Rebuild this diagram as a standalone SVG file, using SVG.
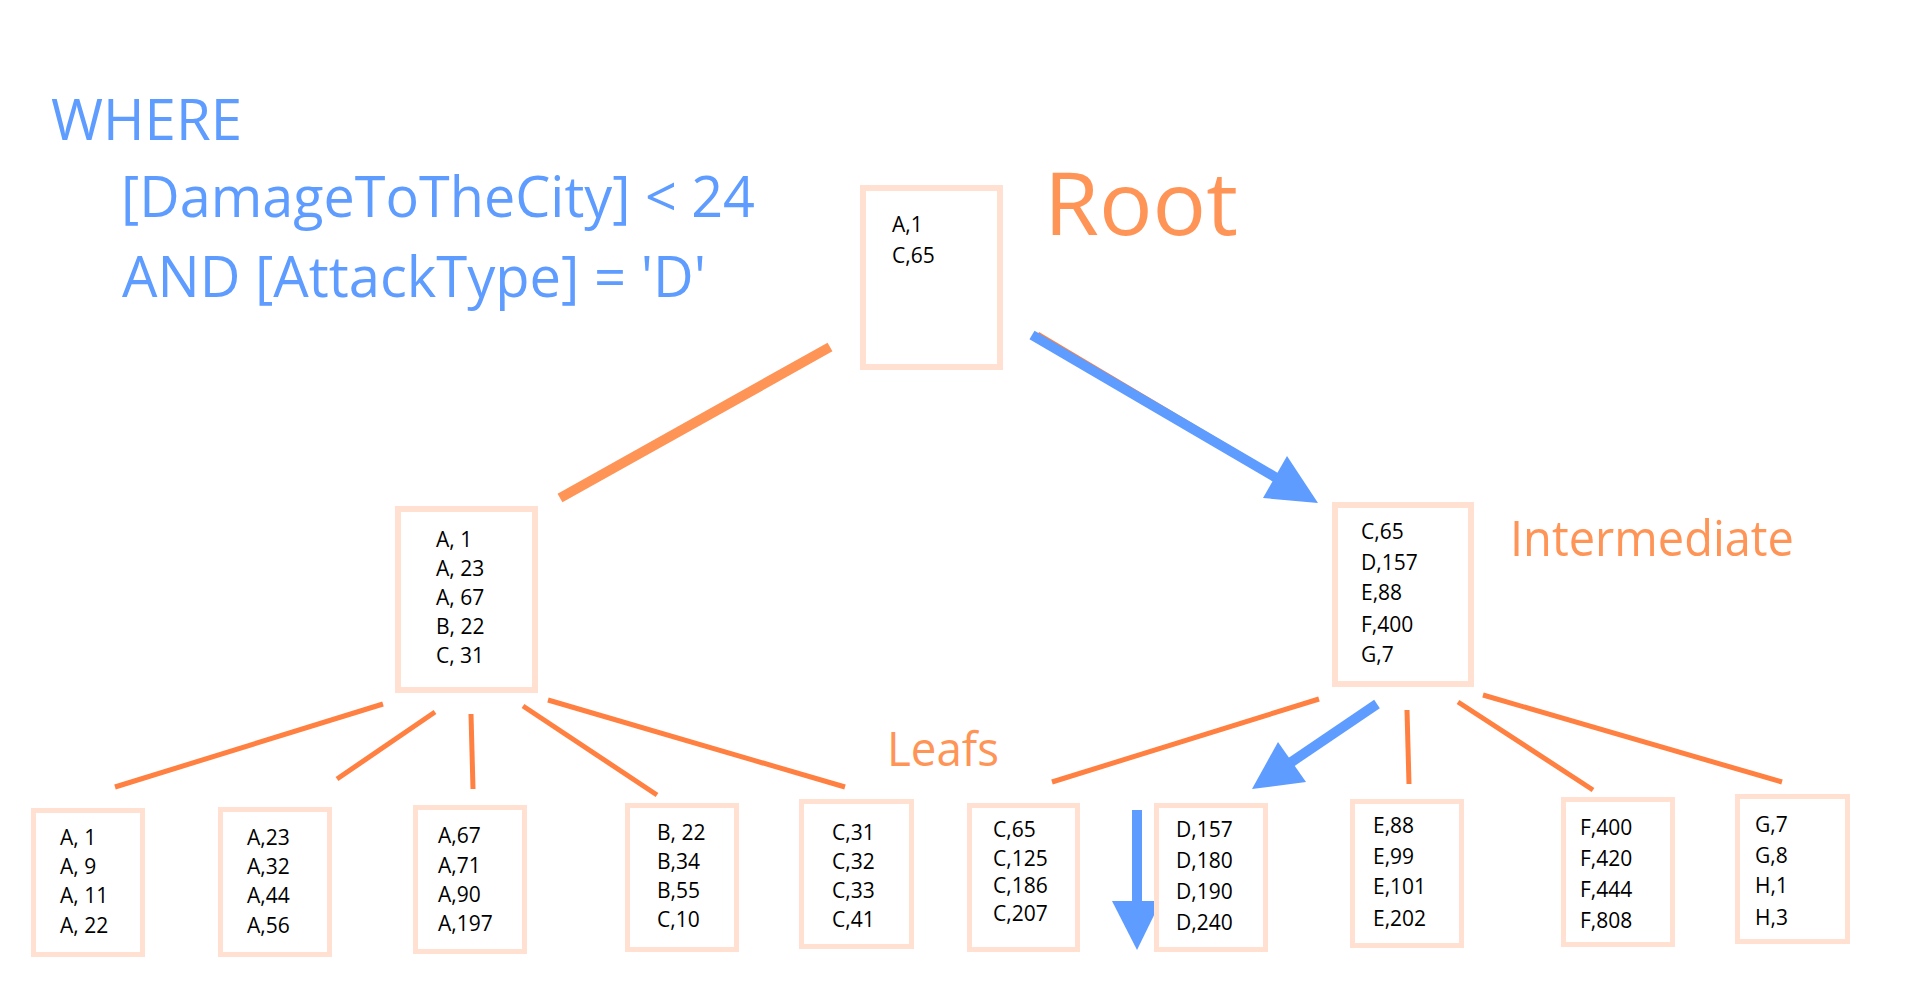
<svg xmlns="http://www.w3.org/2000/svg" width="1920" height="1000" viewBox="0 0 1920 1000">
<style>
  .box { fill: #FFFFFF; stroke: #FFE0D1; }
  .big { stroke-width: 6; }
  .leaf { stroke-width: 5; }
  .val { font-family: "Open Sans", "Noto Sans", sans-serif; font-size: 21px; fill: #000000; }
  .where { font-family: "Open Sans", "Noto Sans", sans-serif; font-size: 57px; fill: #5E9CFF; }
  .lbl { font-family: "Open Sans", "Noto Sans", sans-serif; fill: #FF9457; }
  .edge { stroke: #FF8040; stroke-width: 5; fill: none; }
  .edge-top { stroke: #FF9457; stroke-width: 10; fill: none; }
  .path { stroke: #5E9CFF; stroke-width: 10; fill: none; }
  .head { fill: #5E9CFF; }
</style>
<rect x="0" y="0" width="1920" height="1000" fill="#FFFFFF"/>

<g id="query">
  <text class="where" x="51" y="140" textLength="191" lengthAdjust="spacingAndGlyphs">WHERE</text>
  <text class="where" x="121" y="217" textLength="634" lengthAdjust="spacingAndGlyphs">[DamageToTheCity] &lt; 24</text>
  <text class="where" x="122" y="297" textLength="584" lengthAdjust="spacingAndGlyphs">AND [AttackType] = 'D'</text>
</g>

<g id="labels">
  <text class="lbl" x="1044" y="235" font-size="88" textLength="194" lengthAdjust="spacingAndGlyphs">Root</text>
  <text class="lbl" x="1510" y="556" font-size="50" textLength="284" lengthAdjust="spacingAndGlyphs">Intermediate</text>
  <text class="lbl" x="887" y="766" font-size="48" textLength="112" lengthAdjust="spacingAndGlyphs">Leafs</text>
</g>

<g id="connectors">
  <line class="edge-top" x1="830" y1="347" x2="560" y2="498"/>
  <line x1="1037" y1="335.5" x2="1309" y2="497" stroke="#FF8040" stroke-width="8"/>
  <line class="path" x1="1032" y1="335" x2="1280" y2="480"/>
  <polygon class="head" points="1318,503 1287,456 1263,498"/>

  <line class="edge" x1="383" y1="704" x2="115" y2="787"/>
  <line class="edge" x1="435" y1="712" x2="337" y2="779"/>
  <line class="edge" x1="471" y1="714" x2="473" y2="789"/>
  <line class="edge" x1="523" y1="706" x2="657" y2="795"/>
  <line class="edge" x1="548" y1="700" x2="845" y2="787"/>

  <line class="edge" x1="1319" y1="699" x2="1052" y2="782"/>
  <line class="path" x1="1377" y1="704" x2="1290" y2="763"/>
  <polygon class="head" points="1252,789 1278,742 1306,782"/>
  <line class="edge" x1="1407" y1="710" x2="1409" y2="784"/>
  <line class="edge" x1="1458" y1="702" x2="1593" y2="790"/>
  <line class="edge" x1="1483" y1="695" x2="1782" y2="782"/>

  <line class="path" x1="1137" y1="810" x2="1137" y2="903"/>
  <polygon class="head" points="1112,901 1161,901 1137,950"/>
</g>

<g id="root">
  <rect class="box big" x="863" y="188" width="137" height="179"/>
  <text class="val" font-size="22" x="892" y="232">A,1</text>
  <text class="val" font-size="22" x="892" y="263">C,65</text>
</g>

<g id="int-left">
  <rect class="box big" x="398" y="509" width="137" height="181"/>
  <text class="val" x="436" y="547">A, 1</text>
  <text class="val" x="436" y="576">A, 23</text>
  <text class="val" x="436" y="605">A, 67</text>
  <text class="val" x="436" y="634">B, 22</text>
  <text class="val" x="436" y="663">C, 31</text>
</g>

<g id="int-right">
  <rect class="box big" x="1335" y="505" width="136" height="179"/>
  <text class="val" font-size="21.5" x="1361" y="539">C,65</text>
  <text class="val" font-size="21.5" x="1361" y="570">D,157</text>
  <text class="val" font-size="21.5" x="1361" y="600">E,88</text>
  <text class="val" font-size="21.5" x="1361" y="632">F,400</text>
  <text class="val" font-size="21.5" x="1361" y="662">G,7</text>
</g>

<g id="leaf1">
  <rect class="box leaf" x="33.5" y="810.5" width="109" height="144"/>
  <text class="val" x="60" y="845">A, 1</text>
  <text class="val" x="60" y="874">A, 9</text>
  <text class="val" x="60" y="903">A, 11</text>
  <text class="val" x="60" y="933">A, 22</text>
</g>
<g id="leaf2">
  <rect class="box leaf" x="220.5" y="809.5" width="109" height="145"/>
  <text class="val" x="247" y="845">A,23</text>
  <text class="val" x="247" y="874">A,32</text>
  <text class="val" x="247" y="903">A,44</text>
  <text class="val" x="247" y="933">A,56</text>
</g>
<g id="leaf3">
  <rect class="box leaf" x="415.5" y="807.5" width="109" height="144"/>
  <text class="val" x="438" y="843">A,67</text>
  <text class="val" x="438" y="873">A,71</text>
  <text class="val" x="438" y="902">A,90</text>
  <text class="val" x="438" y="931">A,197</text>
</g>
<g id="leaf4">
  <rect class="box leaf" x="627.5" y="805.5" width="109" height="144"/>
  <text class="val" x="657" y="840">B, 22</text>
  <text class="val" x="657" y="869">B,34</text>
  <text class="val" x="657" y="898">B,55</text>
  <text class="val" x="657" y="927">C,10</text>
</g>
<g id="leaf5">
  <rect class="box leaf" x="801.5" y="801.5" width="110" height="145"/>
  <text class="val" x="832" y="840">C,31</text>
  <text class="val" x="832" y="869">C,32</text>
  <text class="val" x="832" y="898">C,33</text>
  <text class="val" x="832" y="927">C,41</text>
</g>
<g id="leaf6">
  <rect class="box leaf" x="969.5" y="805.5" width="108" height="144"/>
  <text class="val" font-size="19.5" x="993" y="837">C,65</text>
  <text class="val" font-size="19.5" x="993" y="866">C,125</text>
  <text class="val" font-size="19.5" x="993" y="893">C,186</text>
  <text class="val" font-size="19.5" x="993" y="921">C,207</text>
</g>
<g id="leaf7">
  <rect class="box leaf" x="1156.5" y="805.5" width="109" height="144"/>
  <text class="val" font-size="21.5" x="1176" y="837">D,157</text>
  <text class="val" font-size="21.5" x="1176" y="868">D,180</text>
  <text class="val" font-size="21.5" x="1176" y="899">D,190</text>
  <text class="val" font-size="21.5" x="1176" y="930">D,240</text>
</g>
<g id="leaf8">
  <rect class="box leaf" x="1352.5" y="801.5" width="109" height="144"/>
  <text class="val" font-size="21.5" x="1373" y="833">E,88</text>
  <text class="val" font-size="21.5" x="1373" y="864">E,99</text>
  <text class="val" font-size="21.5" x="1373" y="894">E,101</text>
  <text class="val" font-size="21.5" x="1373" y="926">E,202</text>
</g>
<g id="leaf9">
  <rect class="box leaf" x="1563.5" y="799.5" width="109" height="145"/>
  <text class="val" x="1580" y="835">F,400</text>
  <text class="val" x="1580" y="866">F,420</text>
  <text class="val" x="1580" y="897">F,444</text>
  <text class="val" x="1580" y="928">F,808</text>
</g>
<g id="leaf10">
  <rect class="box leaf" x="1737.5" y="796.5" width="110" height="145"/>
  <text class="val" font-size="21.5" x="1755" y="832">G,7</text>
  <text class="val" font-size="21.5" x="1755" y="863">G,8</text>
  <text class="val" font-size="21.5" x="1755" y="893">H,1</text>
  <text class="val" font-size="21.5" x="1755" y="925">H,3</text>
</g>
</svg>
